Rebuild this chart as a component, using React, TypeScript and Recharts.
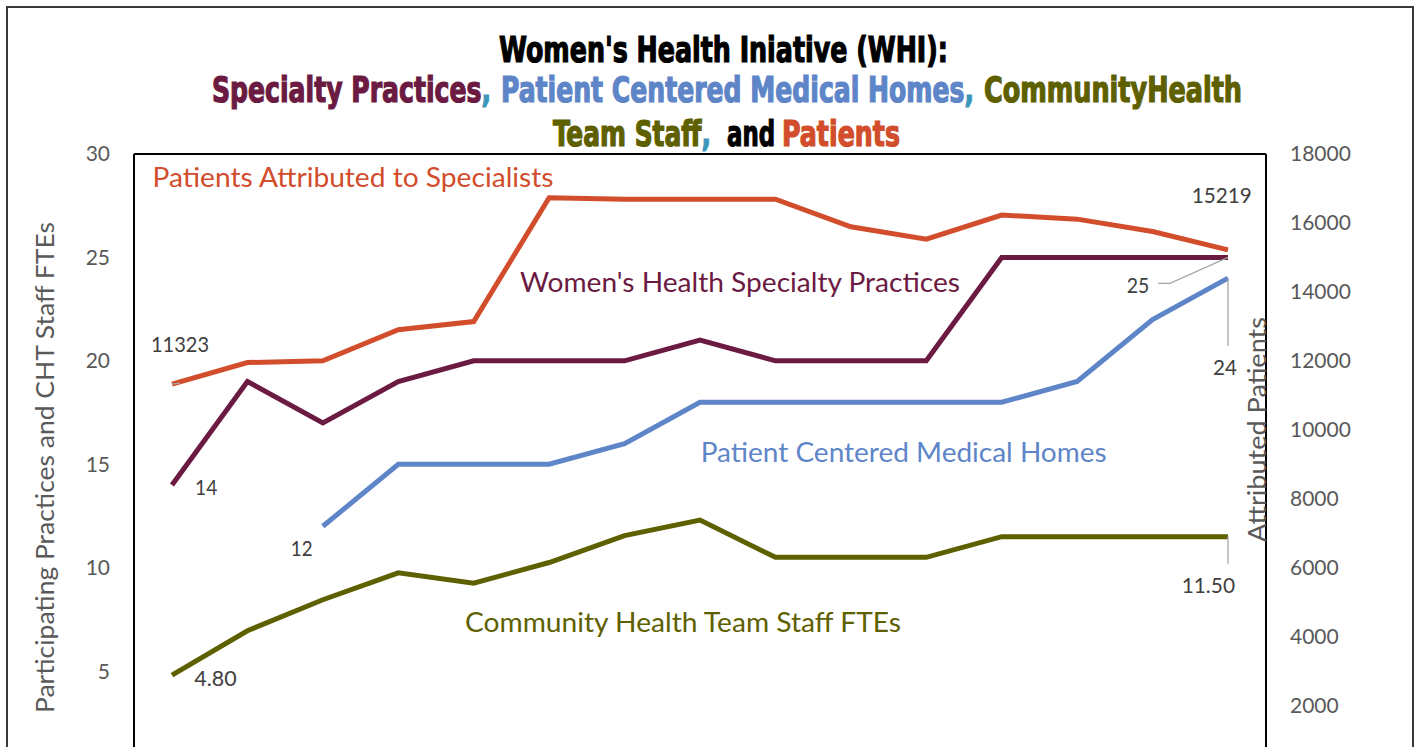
import React from 'react';
import { LineChart, Line, XAxis, YAxis, ReferenceLine } from 'recharts';

// ---------- data ----------
const periods = ['P1', 'P2', 'P3', 'P4', 'P5', 'P6', 'P7', 'P8', 'P9', 'P10', 'P11', 'P12', 'P13', 'P14', 'P15'];
const patients = [11323, 11950, 12000, 12900, 13140, 16730, 16690, 16690, 16690, 15890, 15530, 16230, 16110, 15750, 15219];
const specialtyPractices = [14, 19, 17, 19, 20, 20, 20, 21, 20, 20, 20, 25, 25, 25, 25];
const medicalHomes: (number | null)[] = [null, null, 12, 15, 15, 15, 16, 18, 18, 18, 18, 18, 19, 22, 24];
const chtStaff = [4.8, 6.95, 8.45, 9.75, 9.25, 10.25, 11.55, 12.3, 10.5, 10.5, 10.5, 11.5, 11.5, 11.5, 11.5];
const leftTicks = [5, 10, 15, 20, 25, 30];
const rightTicks = [2000, 4000, 6000, 8000, 10000, 12000, 14000, 16000, 18000];

const rows = periods.map((p, i) => ({
  period: p,
  patients: patients[i],
  specialty: specialtyPractices[i],
  homes: medicalHomes[i],
  cht: chtStaff[i],
}));

// ---------- styles ----------
const C_ORANGE = '#D24D2B';
const C_MAROON = '#6B1A42';
const C_BLUE = '#5E85C8';
const C_OLIVE = '#5E6000';
const C_TEAL = '#3A97B9';
const C_VAL = '#404040';
const C_TICK = '#595959';
const C_LEADER = '#A6A6A6';
const BODY_FONT = "Lato, 'Open Sans', sans-serif";
const TITLE_FONT = "'Liberation Sans Narrow', 'DejaVu Sans Condensed', 'Arial Narrow', sans-serif";

type Note = {
  index: number;
  text?: string;
  fmt?: (v: number) => string;
  dx: number;
  dy: number;
  color: string;
  size: number;
  len: number;
  leader?: [number, number][];
};

const makeLabel = (notes: Note[]) => (props: any) => {
  const { x, y, index, value } = props;
  const items = notes.filter((n) => n.index === index);
  if (!items.length || x == null || y == null) return <g key={`e-${index}`} />;
  return (
    <g key={`n-${index}`}>
      {items.map((n, k) => (
        <g key={k}>
          {n.leader && (
            <polyline
              points={n.leader.map(([a, b]) => `${x + a},${y + b}`).join(' ')}
              fill="none"
              stroke={C_LEADER}
              strokeWidth={1.3}
            />
          )}
          <text
            x={x + n.dx}
            y={y + n.dy}
            fill={n.color}
            fontSize={n.size}
            fontFamily={BODY_FONT}
            textLength={n.len}
            lengthAdjust="spacingAndGlyphs"
          >
            {n.text ?? (n.fmt ? n.fmt(Number(value)) : String(value))}
          </text>
        </g>
      ))}
    </g>
  );
};

const int = (v: number) => String(Math.round(v));
const dec2 = (v: number) => v.toFixed(2);

const patientsLabel = makeLabel([
  { index: 0, text: 'Patients Attributed to Specialists', dx: -19.5, dy: -197, color: C_ORANGE, size: 27, len: 401 },
  { index: 0, fmt: int, dx: -21, dy: -32.5, color: C_VAL, size: 21, len: 58, leader: [[0, 0], [8, -1]] },
  { index: 14, fmt: int, dx: -36.3, dy: -47, color: C_VAL, size: 21, len: 60 },
]);
const specialtyLabel = makeLabel([
  { index: 0, text: "Women's Health Specialty Practices", dx: 348, dy: -193.2, color: C_MAROON, size: 27, len: 440 },
  { index: 0, fmt: int, dx: 23, dy: 10, color: C_VAL, size: 21, len: 22.3 },
  { index: 14, fmt: int, dx: -101.3, dy: 35.6, color: C_VAL, size: 21, len: 22.6, leader: [[-70, 26], [-58, 26], [0, 0]] },
]);
const homesLabel = makeLabel([
  { index: 2, text: 'Patient Centered Medical Homes', dx: 377.8, dy: -64.6, color: C_BLUE, size: 27, len: 406 },
  { index: 2, fmt: int, dx: -32, dy: 29.7, color: C_VAL, size: 21, len: 21.7 },
  { index: 14, fmt: int, dx: -15, dy: 97, color: C_VAL, size: 21, len: 24, leader: [[0, 0], [0, 68]] },
]);
const chtLabel = makeLabel([
  { index: 0, text: 'Community Health Team Staff FTEs', dx: 293, dy: -42.9, color: C_OLIVE, size: 27, len: 436 },
  { index: 0, fmt: dec2, dx: 22.3, dy: 10.8, color: C_VAL, size: 21, len: 42.4 },
  { index: 14, fmt: dec2, dx: -46.3, dy: 56, color: C_VAL, size: 21, len: 53.3, leader: [[0, 0], [0, 27]] },
]);

// title segments: a word group, optionally followed by a teal comma
type Seg = { text: string; comma: boolean; x: number; len: number; color: string };
const titleLines: { y: number; size: number; segs: Seg[] }[] = [
  { y: 62, size: 36, segs: [{ text: "Women's Health Iniative (WHI):", comma: false, x: 499, len: 449, color: '#000' }] },
  {
    y: 102,
    size: 35,
    segs: [
      { text: 'Specialty Practices', comma: true, x: 212, len: 279, color: C_MAROON },
      { text: 'Patient Centered Medical Homes', comma: true, x: 501, len: 473, color: C_BLUE },
      { text: 'CommunityHealth', comma: false, x: 984, len: 258, color: C_OLIVE },
    ],
  },
  {
    y: 146,
    size: 35,
    segs: [
      { text: 'Team Staff', comma: true, x: 553, len: 158, color: C_OLIVE },
      { text: 'and', comma: false, x: 727, len: 48, color: '#000' },
      { text: 'Patients', comma: false, x: 782, len: 118, color: C_ORANGE },
    ],
  },
];

export default function App() {
  return (
    <div
      style={{
        position: 'absolute',
        left: 0,
        top: 0,
        width: 1416,
        height: 747,
        overflow: 'hidden',
        background: '#fff',
      }}
    >
      <div
        style={{
          position: 'absolute',
          left: 6,
          top: 6,
          width: 1404,
          height: 800,
          border: '2px solid #3a3a3a',
        }}
      />
      <div style={{ position: 'absolute', left: 0, top: 0 }}>
        <LineChart
          width={1416}
          height={800}
          data={rows}
          margin={{ top: 154, right: 0, bottom: 25.5, left: 0 }}
        >
          <XAxis dataKey="period" hide padding={{ left: 38, right: 38 }} />
          <YAxis
            yAxisId="left"
            orientation="left"
            width={134}
            domain={[0, 30]}
            ticks={leftTicks}
            interval={0}
            tickLine={false}
            tickSize={0}
            tickMargin={24}
            axisLine={{ stroke: '#000', strokeWidth: 2 }}
            tick={{ fill: C_TICK, fontSize: 21, fontFamily: BODY_FONT }}
          />
          <YAxis
            yAxisId="right"
            orientation="right"
            width={150}
            domain={[0, 18000]}
            ticks={rightTicks}
            interval={0}
            tickLine={false}
            tickSize={0}
            tickMargin={24}
            axisLine={{ stroke: '#000', strokeWidth: 2 }}
            tick={{ fill: C_TICK, fontSize: 21, fontFamily: BODY_FONT }}
          />
          <ReferenceLine yAxisId="left" y={30} stroke="#000" strokeWidth={2} />
          <Line
            yAxisId="left"
            dataKey="cht"
            stroke={C_OLIVE}
            strokeWidth={5}
            dot={false}
            activeDot={false}
            isAnimationActive={false}
            label={chtLabel}
          />
          <Line
            yAxisId="left"
            dataKey="homes"
            stroke={C_BLUE}
            strokeWidth={5}
            dot={false}
            activeDot={false}
            isAnimationActive={false}
            label={homesLabel}
          />
          <Line
            yAxisId="left"
            dataKey="specialty"
            stroke={C_MAROON}
            strokeWidth={5}
            dot={false}
            activeDot={false}
            isAnimationActive={false}
            label={specialtyLabel}
          />
          <Line
            yAxisId="right"
            dataKey="patients"
            stroke={C_ORANGE}
            strokeWidth={5}
            dot={false}
            activeDot={false}
            isAnimationActive={false}
            label={patientsLabel}
          />
        </LineChart>
      </div>
      <svg
        width={1416}
        height={747}
        style={{ position: 'absolute', left: 0, top: 0, pointerEvents: 'none' }}
      >
        {titleLines.map((ln, li) => (
          <text
            key={li}
            y={ln.y}
            fontSize={ln.size}
            fontWeight={700}
            fontFamily={TITLE_FONT}
            strokeWidth={1.2}
          >
            {ln.segs.map((s, si) => (
              <tspan
                key={si}
                x={s.x}
                fill={s.color}
                stroke={s.color}
                textLength={s.len}
                lengthAdjust="spacingAndGlyphs"
              >
                {s.text}
                {s.comma && (
                  <tspan fill={C_TEAL} stroke={C_TEAL}>
                    ,
                  </tspan>
                )}
              </tspan>
            ))}
          </text>
        ))}
        <text
          transform="translate(54,467.5) rotate(-90)"
          textAnchor="middle"
          fill={C_TICK}
          fontSize={25.5}
          fontFamily={BODY_FONT}
          textLength={491}
          lengthAdjust="spacingAndGlyphs"
        >
          Participating Practices and CHT Staff FTEs
        </text>
        <text
          transform="translate(1266,429.5) rotate(-90)"
          textAnchor="middle"
          fill={C_TICK}
          fontSize={24.5}
          fontFamily={BODY_FONT}
          textLength={225}
          lengthAdjust="spacingAndGlyphs"
        >
          Attributed Patients
        </text>
      </svg>
    </div>
  );
}
